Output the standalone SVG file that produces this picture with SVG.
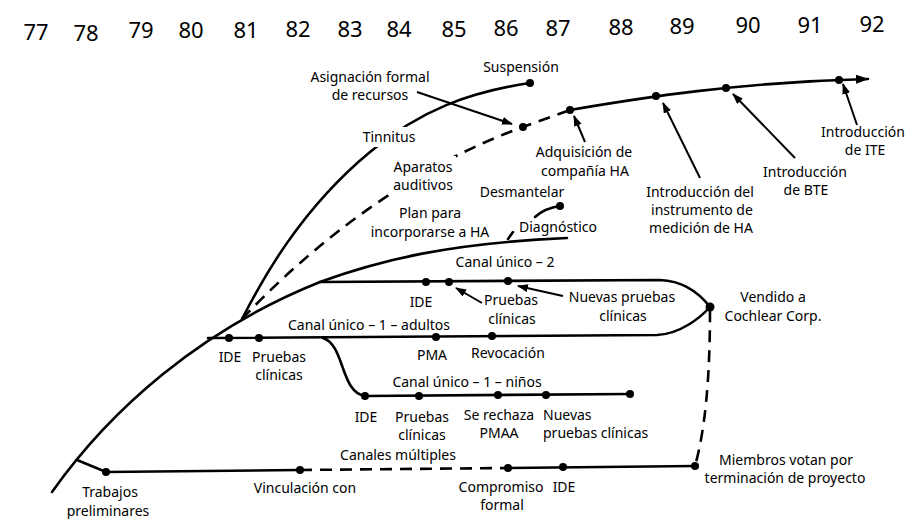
<svg xmlns="http://www.w3.org/2000/svg" width="910" height="519" viewBox="0 0 910 519">
<style>
.ln{fill:none;stroke:#000;stroke-width:2.6;stroke-linecap:round}
.ds{fill:none;stroke:#000;stroke-width:2.6;stroke-dasharray:12 8}
.ar{fill:none;stroke:#000;stroke-width:2;marker-end:url(#ah)}
.dot{fill:#000}
text{font-family:"Noto Sans","Liberation Sans",sans-serif;font-size:14px;fill:#000;text-anchor:middle}
.yr{font-size:22px}
.st{text-anchor:start}
</style>
<defs>
<marker id="ah" markerWidth="12" markerHeight="10" refX="10" refY="4" orient="auto" markerUnits="userSpaceOnUse">
<path d="M0,0 L11,4 L0,8 Z" fill="#000"/>
</marker>
<marker id="ah2" markerWidth="14" markerHeight="10" refX="12" refY="4.5" orient="auto" markerUnits="userSpaceOnUse">
<path d="M0,0 L13,4.5 L0,9 Z" fill="#000"/>
</marker>
</defs>
<rect width="910" height="519" fill="#fff"/>
<g id="years">
<text class="yr" x="36" y="40">77</text>
<text class="yr" x="86" y="41">78</text>
<text class="yr" x="141" y="38">79</text>
<text class="yr" x="191" y="38">80</text>
<text class="yr" x="246" y="38">81</text>
<text class="yr" x="298" y="37">82</text>
<text class="yr" x="350" y="37">83</text>
<text class="yr" x="399" y="37">84</text>
<text class="yr" x="454" y="37">85</text>
<text class="yr" x="506" y="36">86</text>
<text class="yr" x="558" y="36">87</text>
<text class="yr" x="621" y="35">88</text>
<text class="yr" x="682" y="34">89</text>
<text class="yr" x="748" y="33">90</text>
<text class="yr" x="810" y="33">91</text>
<text class="yr" x="872" y="32">92</text>
</g>
<g id="connectors">
<path class="ln" d="M52,492 C110,410 200,330 320,282 C380,260 450,243 567,238"/>
<path class="ln" d="M242,319 C262,280 300,210 370,152 C420,110 470,92 530,83"/>
<path class="ds" d="M242,319 C290,268 390,175 523,127 L570,110"/>
<path class="ln" d="M570,110 C640,98 740,82 868,79" marker-end="url(#ah2)"/>
<path class="ln" d="M535,217 Q545,208 560,206"/>
<path class="ln" d="M508,239 L513,232"/>
<path class="ln" d="M320,282 L660,280 C684,281 700,294 710,307"/>
<path class="ln" d="M208,338 L657,335 C680,334 700,318 710,307"/>
<path class="ln" d="M323,338 C345,345 340,392 365,396 L630,394"/>
<path class="ln" d="M77,460 L106,472 L300,470"/>
<path class="ds" d="M300,470 L508,468"/>
<path class="ln" d="M508,468 L695,466"/>
<path class="ds" d="M710,310 C710,380 705,430 695,466"/>
<line class="ar" x1="417" y1="92" x2="512" y2="124"/>
<line class="ar" x1="585" y1="142" x2="574" y2="116"/>
<line class="ar" x1="700" y1="178" x2="663" y2="103"/>
<line class="ar" x1="795" y1="158" x2="733" y2="94"/>
<line class="ar" x1="857" y1="125" x2="843" y2="84"/>
<line class="ar" x1="482" y1="303" x2="456" y2="288"/>
<line class="ar" x1="563" y1="296" x2="518" y2="286"/>
</g>
<g id="dots">
<circle class="dot" cx="530" cy="83" r="4"/>
<circle class="dot" cx="523" cy="127" r="4"/>
<circle class="dot" cx="570" cy="110" r="4"/>
<circle class="dot" cx="656" cy="96" r="4"/>
<circle class="dot" cx="726" cy="88" r="4"/>
<circle class="dot" cx="839" cy="80" r="4"/>
<circle class="dot" cx="560" cy="206" r="4"/>
<circle class="dot" cx="426" cy="282" r="4"/>
<circle class="dot" cx="449" cy="282" r="4"/>
<circle class="dot" cx="508" cy="281" r="4"/>
<circle class="dot" cx="710" cy="307" r="4.5"/>
<circle class="dot" cx="229" cy="338" r="4"/>
<circle class="dot" cx="259" cy="338" r="4"/>
<circle class="dot" cx="436" cy="337" r="4"/>
<circle class="dot" cx="492" cy="336" r="4"/>
<circle class="dot" cx="365" cy="396" r="4"/>
<circle class="dot" cx="419" cy="396" r="4"/>
<circle class="dot" cx="498" cy="395" r="4"/>
<circle class="dot" cx="546" cy="395" r="4"/>
<circle class="dot" cx="630" cy="394" r="4"/>
<circle class="dot" cx="106" cy="472" r="4"/>
<circle class="dot" cx="300" cy="470" r="4"/>
<circle class="dot" cx="508" cy="468" r="4"/>
<circle class="dot" cx="563" cy="467" r="4"/>
<circle class="dot" cx="695" cy="466" r="4"/>
</g>
<g id="tinnitus"><rect x="362" y="127" width="54" height="20" fill="#fff"/><text x="389" y="142">Tinnitus</text></g>
<g id="aparatos"><rect x="388" y="156" width="68" height="38" fill="#fff"/><text x="423" y="172">Aparatos</text><text x="423" y="190">auditivos</text></g>
<g id="asignacion"><text x="370" y="82">Asignación formal</text><text x="370" y="100">de recursos</text></g>
<g id="suspension"><text x="521" y="72">Suspensión</text></g>
<g id="plan"><text x="430" y="218">Plan para</text><text x="430" y="237">incorporarse a HA</text></g>
<g id="desmantelar"><text x="522" y="197">Desmantelar</text></g>
<g id="diagnostico"><text x="558" y="232">Diagnóstico</text></g>
<g id="adquisicion"><text x="584" y="157">Adquisición de</text><text x="585" y="176">compañía HA</text></g>
<g id="medicion"><text x="700" y="197">Introducción del</text><text x="702" y="215">instrumento de</text><text x="701" y="233">medición de HA</text></g>
<g id="bte"><text x="805" y="177">Introducción</text><text x="806" y="195">de BTE</text></g>
<g id="ite"><text x="863" y="137">Introducción</text><text x="865" y="155">de ITE</text></g>
<g id="canal2"><text x="505" y="267">Canal único – 2</text><text x="421" y="307">IDE</text><text x="511" y="305">Pruebas</text><text x="512" y="324">clínicas</text><text x="622" y="302">Nuevas pruebas</text><text x="623" y="321">clínicas</text></g>
<g id="vendido"><text x="773" y="302">Vendido a</text><text x="773" y="321">Cochlear Corp.</text></g>
<g id="canal1a"><text x="369" y="330">Canal único – 1 – adultos</text><text x="230" y="362">IDE</text><text x="279" y="362">Pruebas</text><text x="279" y="380">clínicas</text><text x="432" y="360">PMA</text><text x="508" y="358">Revocación</text></g>
<g id="canal1n"><text x="467" y="387">Canal único – 1 – niños</text><text x="366" y="422">IDE</text><text x="422" y="422">Pruebas</text><text x="422" y="440">clínicas</text><text x="499" y="420">Se rechaza</text><text x="499" y="438">PMAA</text><text class="st" x="543" y="420">Nuevas</text><text class="st" x="543" y="438">pruebas clínicas</text></g>
<g id="multiples"><text x="398" y="460">Canales múltiples</text><text x="305" y="493">Vinculación con</text><text x="501" y="492">Compromiso</text><text x="502" y="510">formal</text><text x="564" y="492">IDE</text></g>
<g id="trabajos"><text x="110" y="497">Trabajos</text><text x="108" y="516">preliminares</text></g>
<g id="miembros"><text x="786" y="465">Miembros votan por</text><text x="785" y="483">terminación de proyecto</text></g>
</svg>
